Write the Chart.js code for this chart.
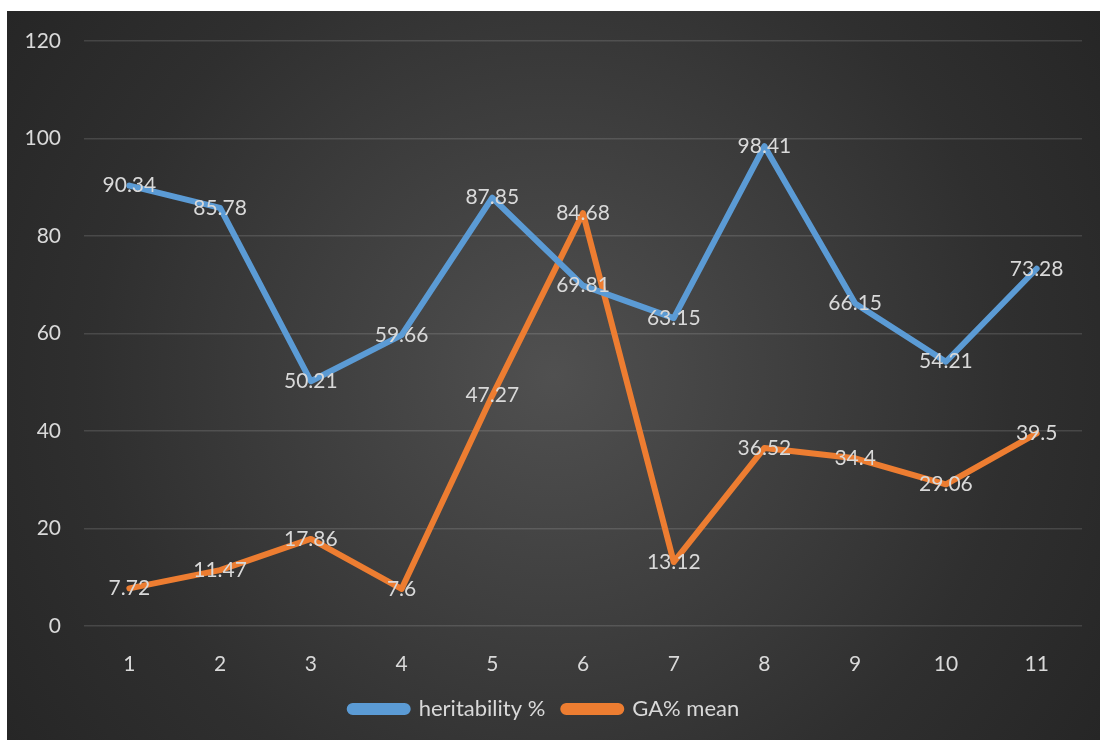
<!DOCTYPE html>
<html>
<head>
<meta charset="utf-8">
<script src="https://cdn.jsdelivr.net/npm/chart.js@4.4.1/dist/chart.umd.min.js"></script>
<style>
  body { margin: 0; background: #fff; }
  #box {
    position: absolute; left: 7px; top: 11px; width: 1093px; height: 729px;
    background: radial-gradient(circle farthest-corner at 50% 50%, #505050 0%, #2f2f2f 70%, #262626 100%);
  }
</style>
</head>
<body>
<div id="box"><canvas id="myChart" width="1093" height="729"></canvas></div>
<script>
// values
var categories = ["1", "2", "3", "4", "5", "6", "7", "8", "9", "10", "11"];
var heritability = [90.34, 85.78, 50.21, 59.66, 87.85, 69.81, 63.15, 98.41, 66.15, 54.21, 73.28];
var gaMean = [7.72, 11.47, 17.86, 7.6, 47.27, 84.68, 13.12, 36.52, 34.4, 29.06, 39.5];
var yTicks = [0, 20, 40, 60, 80, 100, 120];

var textColor = "#d9d9d9";
var fontFamily = "Lato, 'Open Sans', sans-serif";

// draws the value on top of each point (excel "center" label)
var valueLabels = {
  id: "valueLabels",
  afterDatasetsDraw: function(chart) {
    var ctx = chart.ctx;
    ctx.save();
    ctx.font = "21px " + fontFamily;
    ctx.fillStyle = textColor;
    ctx.textAlign = "center";
    ctx.textBaseline = "middle";
    chart.data.datasets.forEach(function(ds, i) {
      chart.getDatasetMeta(i).data.forEach(function(pt, j) {
        ctx.fillText(String(ds.data[j]), pt.x, pt.y);
      });
    });
    ctx.restore();
  }
};

new Chart("myChart", {
  type: "line",
  data: {
    labels: categories,
    datasets: [{
      label: "heritability %",
      data: heritability,
      borderColor: "#5b9bd5",
      backgroundColor: "#5b9bd5"
    }, {
      label: "GA% mean",
      data: gaMean,
      borderColor: "#ed7d31",
      backgroundColor: "#ed7d31"
    }]
  },
  options: {
    responsive: false,
    animation: false,
    elements: {
      line: { borderWidth: 6, tension: 0, borderJoinStyle: "round", borderCapStyle: "round" },
      point: { radius: 0, hoverRadius: 0 }
    },
    layout: { padding: { top: 30, right: 18, left: 0, bottom: 10 } },
    plugins: {
      tooltip: { enabled: false },
      legend: {
        position: "bottom",
        labels: {
          color: textColor,
          font: { family: fontFamily, size: 22 },
          boxWidth: 58,
          boxHeight: 6,
          useBorderRadius: true,
          borderRadius: 3,
          padding: 18
        }
      }
    },
    scales: {
      x: {
        offset: true,
        grid: { display: false },
        border: { display: false },
        ticks: { color: textColor, font: { family: fontFamily, size: 21 }, padding: 18 },
        afterFit: function(s) { s.height = 54; s.paddingLeft = 0; s.paddingRight = 0; }
      },
      y: {
        min: 0,
        max: 120,
        afterBuildTicks: function(s) { s.ticks = yTicks.map(function(v) { return { value: v }; }); },
        grid: { color: "rgba(255,255,255,0.13)", lineWidth: 1.5, drawTicks: false },
        border: { display: false },
        ticks: { color: textColor, font: { family: fontFamily, size: 21 }, padding: 23 },
        afterFit: function(s) { s.width = 77; s.paddingTop = 0; s.paddingBottom = 0; }
      }
    }
  },
  plugins: [valueLabels]
});
</script>
</body>
</html>
